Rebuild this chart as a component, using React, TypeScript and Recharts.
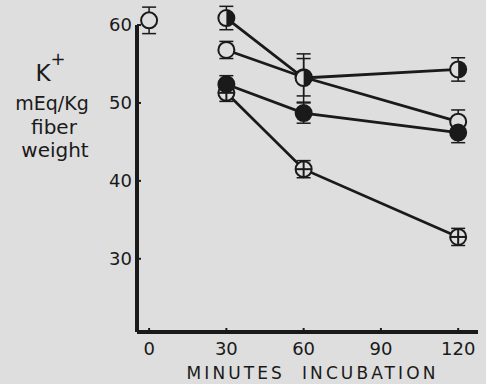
import React from "react";
import {
  LineChart,
  Line,
  XAxis,
  YAxis,
  ErrorBar,
  ReferenceLine,
} from "recharts";

// minutes of incubation
const minutes = [30, 60, 120];
const xTicks = [0, 30, 60, 90, 120];
const yTicks = [30, 40, 50, 60];

// K+ mEq/Kg fiber weight
const halfValues = [60.9, 53.2, 54.3];
const halfErr = [1.5, 3.1, 1.5];
const openValues = [56.8, 53.3, 47.6];
const openErr = [1.1, 2.4, 1.5];
const filledValues = [52.4, 48.7, 46.2];
const filledErr = [1.1, 1.3, 1.3];
const crossValues = [51.3, 41.5, 32.8];
const crossErr = [1.1, 1.1, 1.1];
const initialValue = [60.6];
const initialErr = [1.7];

const BG = "#dedede";
const INK = "#1a1a1a";
const FONT = "'DejaVu Sans', sans-serif";

const toRows = (xs: number[], vs: number[], es: number[]) =>
  xs.map((t, i) => ({ t, v: vs[i], err: es[i] }));

const halfData = toRows(minutes, halfValues, halfErr);
const openData = toRows(minutes, openValues, openErr);
const filledData = toRows(minutes, filledValues, filledErr);
const crossData = toRows(minutes, crossValues, crossErr);
const initialData = toRows([0], initialValue, initialErr);

type Kind = "open" | "half" | "filled" | "cross";

const Marker = ({ cx, cy, kind }: { cx?: number; cy?: number; kind: Kind }) => {
  if (cx == null || cy == null) return null;
  const r = 8;
  return (
    <g>
      <circle cx={cx} cy={cy} r={r} fill={kind === "filled" ? INK : BG} stroke={INK} strokeWidth={2} />
      {kind === "half" && (
        <path d={`M${cx},${cy - r} A${r},${r} 0 0 1 ${cx},${cy + r} Z`} fill={INK} />
      )}
      {kind === "cross" && (
        <g stroke={INK} strokeWidth={2}>
          <line x1={cx - r} y1={cy} x2={cx + r} y2={cy} />
          <line x1={cx} y1={cy - r} x2={cx} y2={cy + r} />
        </g>
      )}
    </g>
  );
};

const dotFor = (kind: Kind) => (props: any) =>
  <Marker key={`${kind}-${props.index}`} cx={props.cx} cy={props.cy} kind={kind} />;

const YLabel = () => (
  <g fill={INK} fontFamily={FONT} textAnchor="middle">
    <text x={43} y={81} fontSize={23}>K</text>
    <text x={58} y={65} fontSize={18}>+</text>
    <text x={52} y={110} fontSize={19}>mEq/Kg</text>
    <text x={54} y={134} fontSize={20}>fiber</text>
    <text x={55} y={157} fontSize={20}>weight</text>
  </g>
);

export default function App() {
  return (
    <div style={{ position: "fixed", top: 0, left: 0, width: 486, height: 384, background: BG }}>
      <LineChart width={486} height={384} margin={{ top: 4, right: 8, bottom: 0, left: 0 }}>
        <XAxis
          type="number"
          dataKey="t"
          domain={[-4.7, 127.7]}
          ticks={xTicks}
          height={52}
          axisLine={{ stroke: INK, strokeWidth: 4 }}
          tickLine={{ stroke: INK, strokeWidth: 2 }}
          tickSize={-4}
          tickMargin={14}
          tick={{ fill: INK, fontSize: 18, fontFamily: FONT }}
          label={{
            value: "MINUTES\u00a0\u00a0INCUBATION",
            position: "insideBottom",
            offset: 5,
            dx: 5,
            fill: INK,
            fontSize: 17,
            fontFamily: FONT,
            letterSpacing: 3.1,
          }}
        />
        <YAxis
          type="number"
          domain={[20.6, 62.7]}
          ticks={yTicks}
          width={137}
          axisLine={false}
          tickLine={{ stroke: INK, strokeWidth: 2 }}
          tickSize={-4}
          tickMargin={9}
          tick={{ fill: INK, fontSize: 18, fontFamily: FONT }}
          label={{ content: () => <YLabel /> }}
        />
        <ReferenceLine
          segment={[{ x: -4.7, y: 20.6 }, { x: -4.7, y: 60 }]}
          stroke={INK}
          strokeWidth={4}
          ifOverflow="visible"
        />
        <Line data={crossData} dataKey="v" stroke={INK} strokeWidth={2.8} dot={dotFor("cross")} isAnimationActive={false}>
          <ErrorBar dataKey="err" direction="y" width={7} stroke={INK} strokeWidth={1.5} />
        </Line>
        <Line data={openData} dataKey="v" stroke={INK} strokeWidth={2.8} dot={dotFor("open")} isAnimationActive={false}>
          <ErrorBar dataKey="err" direction="y" width={7} stroke={INK} strokeWidth={1.5} />
        </Line>
        <Line data={halfData} dataKey="v" stroke={INK} strokeWidth={2.8} dot={dotFor("half")} isAnimationActive={false}>
          <ErrorBar dataKey="err" direction="y" width={7} stroke={INK} strokeWidth={1.5} />
        </Line>
        <Line data={filledData} dataKey="v" stroke={INK} strokeWidth={2.8} dot={dotFor("filled")} isAnimationActive={false}>
          <ErrorBar dataKey="err" direction="y" width={7} stroke={INK} strokeWidth={1.5} />
        </Line>
        <Line data={initialData} dataKey="v" stroke="none" dot={dotFor("open")} isAnimationActive={false}>
          <ErrorBar dataKey="err" direction="y" width={7} stroke={INK} strokeWidth={1.5} />
        </Line>
      </LineChart>
    </div>
  );
}
